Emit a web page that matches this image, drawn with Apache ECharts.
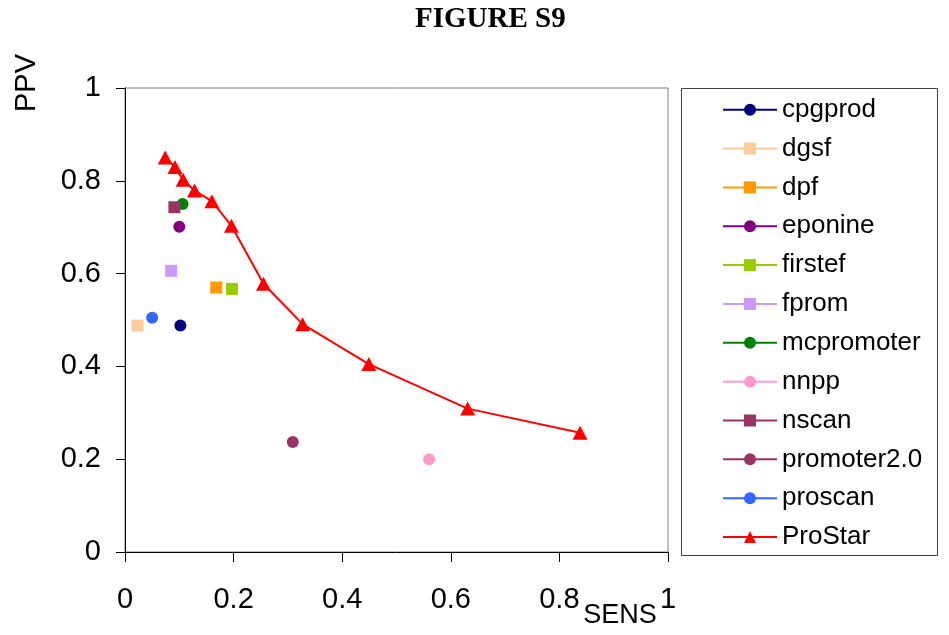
<!DOCTYPE html>
<html>
<head>
<meta charset="utf-8">
<script src="https://cdn.jsdelivr.net/npm/echarts@6/dist/echarts.min.js"></script>
<style>
  html, body { margin: 0; padding: 0; background: #fff; }
  #chart { width: 949px; height: 635px; }
</style>
</head>
<body>
<div id="chart"></div>
<script>
// Single-point predictors: name, sensitivity, PPV, marker, colour
const toolNames = ['cpgprod', 'dgsf', 'dpf', 'eponine', 'firstef', 'fprom',
                   'mcpromoter', 'nnpp', 'nscan', 'promoter2.0', 'proscan'];
const toolSens  = [0.102, 0.023, 0.168, 0.100, 0.197, 0.085, 0.106, 0.560, 0.091, 0.309, 0.050];
const toolPpv   = [0.488, 0.488, 0.570, 0.701, 0.567, 0.606, 0.750, 0.200, 0.743, 0.237, 0.505];
const toolShape = ['circle', 'rect', 'rect', 'circle', 'rect', 'rect',
                   'circle', 'circle', 'rect', 'circle', 'circle'];
const toolColor = ['#000080', '#FFCC99', '#FF9900', '#800080', '#99CC00', '#CC99FF',
                   '#008000', '#FF99CC', '#993366', '#993366', '#3366FF'];

// ProStar curve at different thresholds
const prostarSens = [0.074, 0.092, 0.107, 0.128, 0.160, 0.196, 0.255, 0.327, 0.449, 0.631, 0.838];
const prostarPpv  = [0.850, 0.830, 0.802, 0.779, 0.756, 0.703, 0.578, 0.491, 0.405, 0.309, 0.257];

const FONT = '"Liberation Sans", Arial, sans-serif';

const series = toolNames.map((name, i) => ({
  name: name,
  type: 'line',
  data: [[toolSens[i], toolPpv[i]]],
  symbol: toolShape[i],
  symbolSize: 12,
  itemStyle: { color: toolColor[i] },
  lineStyle: { color: toolColor[i], width: 1.5 },
  animation: false
}));

series.push({
  name: 'ProStar',
  type: 'line',
  data: prostarSens.map((s, i) => [s, prostarPpv[i]]),
  symbol: 'triangle',
  symbolSize: [15, 14],
  itemStyle: { color: '#FF0000' },
  lineStyle: { color: '#FF0000', width: 2 },
  animation: false
});

const chart = echarts.init(document.getElementById('chart'), null, { renderer: 'canvas' });
chart.setOption({
  backgroundColor: '#fff',
  animation: false,
  title: {
    text: 'FIGURE S9',
    left: 415,
    top: 5,
    padding: 0,
    textStyle: {
      fontFamily: '"Liberation Serif", "Times New Roman", serif',
      fontWeight: 'bold',
      fontSize: 29,
      color: '#000'
    }
  },
  grid: {
    left: 125, right: 281, top: 88, bottom: 83,
    show: true, borderColor: '#808080', borderWidth: 1, backgroundColor: '#fff'
  },
  xAxis: {
    type: 'value', min: 0, max: 1, interval: 0.2,
    axisLine: { show: true, lineStyle: { color: '#000', width: 1 } },
    axisTick: { show: true, length: 10, lineStyle: { color: '#000' } },
    axisLabel: { fontFamily: FONT, fontSize: 29, color: '#000', margin: 33 },
    splitLine: { show: false }
  },
  yAxis: {
    type: 'value', min: 0, max: 1, interval: 0.2,
    axisLine: { show: true, lineStyle: { color: '#000', width: 1 } },
    axisTick: { show: true, length: 9, lineStyle: { color: '#000' } },
    axisLabel: { fontFamily: FONT, fontSize: 29, color: '#000', margin: 24 },
    splitLine: { show: false }
  },
  legend: {
    orient: 'vertical',
    left: 722,
    top: 96.7,
    padding: 0,
    itemWidth: 54,
    itemHeight: 15,
    itemGap: 12.85,
    selectedMode: false,
    textStyle: { fontFamily: FONT, fontSize: 26, color: '#000', lineHeight: 26 },
    data: toolNames.concat(['ProStar'])
  },
  graphic: [
    {
      type: 'rect',
      shape: { x: 681.5, y: 88.5, width: 256, height: 467 },
      style: { fill: 'none', stroke: '#444', lineWidth: 1 },
      z: 0
    },
    {
      type: 'text',
      x: 27, y: 83,
      rotation: Math.PI / 2,
      style: {
        text: 'PPV', fontFamily: FONT, fontSize: 29, fill: '#000',
        align: 'center', verticalAlign: 'middle'
      }
    },
    {
      type: 'text',
      x: 620, y: 616,
      style: {
        text: 'SENS', fontFamily: FONT, fontSize: 27, fill: '#000',
        align: 'center', verticalAlign: 'middle'
      }
    }
  ],
  series: series
});
</script>
</body>
</html>
